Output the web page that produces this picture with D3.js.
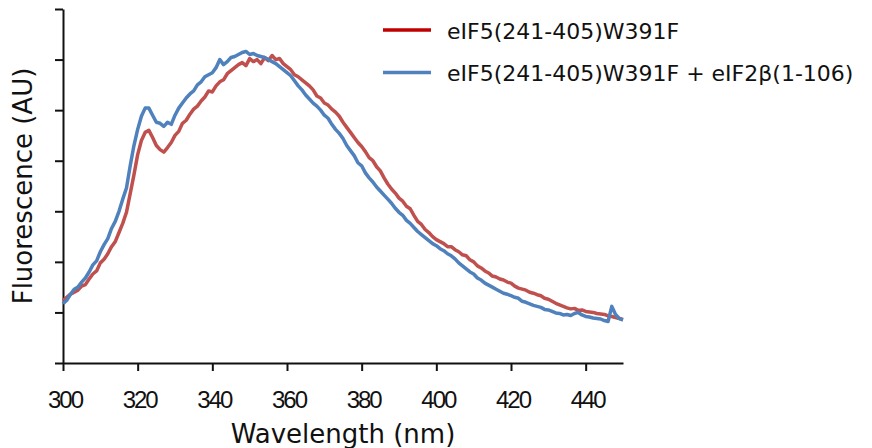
<!DOCTYPE html>
<html>
<head>
<meta charset="utf-8">
<script src="https://cdn.jsdelivr.net/npm/d3@7"></script>
<style>
  body { margin: 0; background: #fff; }
  svg { display: block; font-family: "DejaVu Sans", sans-serif; }
  .tick text { letter-spacing: -2px; }
</style>
</head>
<body>
<div id="chart"></div>
<script>
// wavelengths (nm), 1 nm steps
var wavelengths = d3.range(300, 451, 1);

// eIF5(241-405)W391F
var seriesRed = [
  1.24, 1.30, 1.36, 1.40, 1.44, 1.52, 1.55, 1.66, 1.76, 1.82,
  1.98, 2.05, 2.16, 2.30, 2.40, 2.58, 2.76, 2.98, 3.35, 3.72,
  4.12, 4.40, 4.56, 4.60, 4.46, 4.30, 4.22, 4.17, 4.26, 4.36,
  4.50, 4.58, 4.74, 4.80, 4.92, 5.02, 5.08, 5.18, 5.26, 5.38,
  5.36, 5.48, 5.56, 5.60, 5.72, 5.78, 5.84, 5.90, 5.94, 5.88,
  6.02, 5.96, 6.00, 5.92, 6.04, 5.98, 6.08, 6.00, 6.02, 5.92,
  5.86, 5.80, 5.70, 5.66, 5.60, 5.54, 5.48, 5.40, 5.28, 5.24,
  5.14, 5.10, 5.02, 4.96, 4.88, 4.76, 4.66, 4.56, 4.46, 4.36,
  4.28, 4.18, 4.06, 4.00, 3.88, 3.80, 3.66, 3.54, 3.44, 3.36,
  3.26, 3.20, 3.10, 3.05, 2.92, 2.80, 2.74, 2.64, 2.58, 2.50,
  2.44, 2.40, 2.36, 2.30, 2.30, 2.24, 2.20, 2.14, 2.12, 2.04,
  2.00, 1.92, 1.88, 1.82, 1.78, 1.72, 1.70, 1.66, 1.64, 1.60,
  1.58, 1.52, 1.48, 1.46, 1.44, 1.40, 1.38, 1.35, 1.33, 1.28,
  1.26, 1.22, 1.18, 1.15, 1.12, 1.09, 1.07, 1.08, 1.04, 1.05,
  1.02, 1.01, 1.00, 0.98, 0.97, 0.96, 0.93, 0.92, 0.90, 0.88,
  0.86
];

// eIF5(241-405)W391F + eIF2β(1-106)
var seriesBlue = [
  1.17, 1.24, 1.36, 1.46, 1.50, 1.60, 1.68, 1.80, 1.94, 2.02,
  2.20, 2.34, 2.46, 2.66, 2.80, 3.00, 3.24, 3.46, 3.90, 4.30,
  4.62, 4.88, 5.04, 5.04, 4.90, 4.76, 4.74, 4.68, 4.76, 4.72,
  4.90, 5.04, 5.14, 5.24, 5.32, 5.38, 5.50, 5.56, 5.66, 5.70,
  5.74, 5.84, 6.00, 5.90, 5.96, 6.04, 6.06, 6.10, 6.14, 6.16,
  6.10, 6.12, 6.08, 6.06, 6.04, 6.00, 5.96, 5.92, 5.86, 5.80,
  5.74, 5.68, 5.58, 5.48, 5.40, 5.30, 5.22, 5.14, 5.08, 5.00,
  4.90, 4.84, 4.72, 4.62, 4.54, 4.44, 4.30, 4.20, 4.10, 3.96,
  3.90, 3.76, 3.66, 3.58, 3.48, 3.40, 3.32, 3.24, 3.16, 3.06,
  2.98, 2.92, 2.82, 2.76, 2.68, 2.60, 2.54, 2.48, 2.42, 2.36,
  2.32, 2.26, 2.22, 2.16, 2.12, 2.06, 1.98, 1.92, 1.86, 1.80,
  1.76, 1.68, 1.64, 1.58, 1.54, 1.50, 1.46, 1.42, 1.38, 1.36,
  1.33, 1.30, 1.28, 1.22, 1.20, 1.17, 1.14, 1.12, 1.10, 1.06,
  1.05, 1.02, 0.99, 0.98, 0.95, 0.96, 0.94, 0.98, 1.00, 0.95,
  0.92, 0.91, 0.89, 0.88, 0.87, 0.84, 0.82, 1.12, 0.96, 0.88,
  0.85
];

var xTicks = [300, 320, 340, 360, 380, 400, 420, 440];
var yTicks = [0, 1, 2, 3, 4, 5, 6, 7];

var legendLabels = ["eIF5(241-405)W391F", "eIF5(241-405)W391F + eIF2\u03b2(1-106)"];
var lineColors = ["#c0504d", "#4f81bd"];
var legendColors = ["#c00000", "#4f81bd"];

var width = 872, height = 448;
var margin = {left: 63, top: 9, right: 249, bottom: 85};

var svg = d3.select("#chart").append("svg")
    .attr("width", width)
    .attr("height", height);

var x = d3.scaleLinear().domain([300, 450]).range([margin.left, width - margin.right]);
var y = d3.scaleLinear().domain([0, 7]).range([height - margin.bottom, margin.top]);

//Axes
var xAxis = svg.append("g")
    .attr("transform", "translate(0," + y(0) + ")")
    .call(d3.axisBottom(x).tickValues(xTicks).tickSize(8).tickSizeOuter(0).tickPadding(20));

var yAxis = svg.append("g")
    .attr("transform", "translate(" + x(300) + ",0)")
    .call(d3.axisLeft(y).tickValues(yTicks).tickSize(8).tickSizeOuter(0).tickFormat(""));

svg.selectAll(".domain, .tick line")
    .attr("stroke", "#111")
    .attr("stroke-width", 2);

xAxis.selectAll(".tick text")
    .attr("fill", "#111")
    .attr("dx", "1.5px")
    .style("font-size", "24px")
    .attr("dy", "0.71em");

//Axis titles
svg.append("text")
    .attr("x", (x(300) + x(450)) / 2)
    .attr("y", 443)
    .attr("text-anchor", "middle")
    .style("font-size", "26px")
    .attr("fill", "#111")
    .text("Wavelength (nm)");

svg.append("text")
    .attr("transform", "translate(32," + (y(0) + y(7)) / 2 + ") rotate(-90)")
    .attr("text-anchor", "middle")
    .style("font-size", "26px")
    .attr("fill", "#111")
    .text("Fluorescence (AU)");

//Curves
var line = d3.line()
    .x(function(d, i) { return x(wavelengths[i]); })
    .y(function(d) { return y(d); });

[seriesRed, seriesBlue].forEach(function(s, i) {
    svg.append("path")
        .datum(s)
        .attr("fill", "none")
        .attr("stroke", lineColors[i])
        .attr("stroke-width", 3.5)
        .attr("stroke-linejoin", "round")
        .attr("d", line);
});

//Legend
var legend = svg.append("g").attr("transform", "translate(383,30)");
legendLabels.forEach(function(label, i) {
    var row = legend.append("g").attr("transform", "translate(0," + (i * 42.5) + ")");
    row.append("line")
        .attr("x1", 0).attr("x2", 48)
        .attr("stroke", legendColors[i])
        .attr("stroke-width", 3.5);
    row.append("text")
        .attr("x", 64)
        .attr("y", 8.5)
        .style("font-size", "22px")
        .attr("fill", "#111")
        .text(label);
});
</script>
</body>
</html>
